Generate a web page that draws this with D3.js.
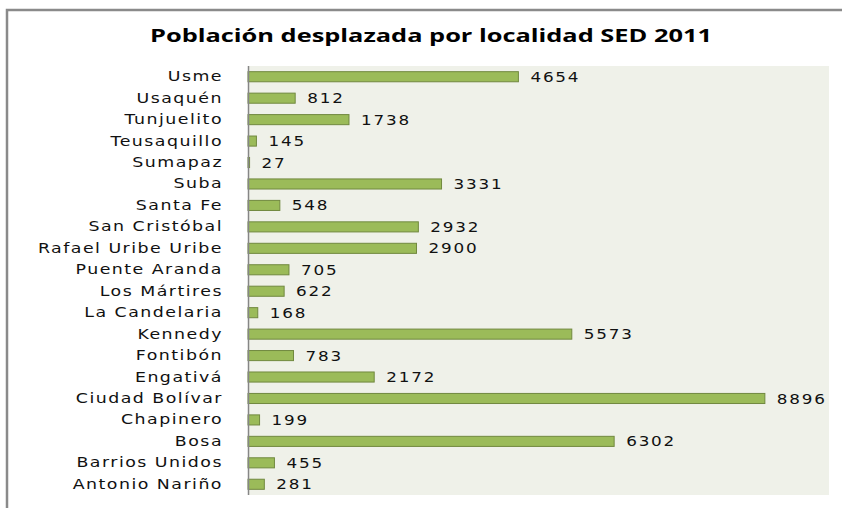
<!DOCTYPE html>
<html>
<head>
<meta charset="utf-8">
<script src="https://cdn.jsdelivr.net/npm/d3@7"></script>
<style>
  body { margin: 0; background: #fff; }
  svg { display: block; }
</style>
</head>
<body>
<svg width="842" height="508"></svg>
<script>
// data, top to bottom as in the chart
const localidades = [
  'Usme', 'Usaquén', 'Tunjuelito', 'Teusaquillo', 'Sumapaz', 'Suba',
  'Santa Fe', 'San Cristóbal', 'Rafael Uribe Uribe', 'Puente Aranda',
  'Los Mártires', 'La Candelaria', 'Kennedy', 'Fontibón', 'Engativá',
  'Ciudad Bolívar', 'Chapinero', 'Bosa', 'Barrios Unidos', 'Antonio Nariño'
];
const poblacion = [
  4654, 812, 1738, 145, 27, 3331, 548, 2932, 2900, 705,
  622, 168, 5573, 783, 2172, 8896, 199, 6302, 455, 281
];
const titulo = 'Población desplazada por localidad SED 2011';

const rows = localidades.map((name, i) => ({ name, value: poblacion[i] }));

const svg = d3.select('svg');
const plot = { left: 248, right: 829, top: 66, bottom: 495 };

// the original picture is stretched sideways, so widen the glyphs a bit
function stretch(sel, factor) {
  sel.each(function () {
    const w = this.getComputedTextLength();
    d3.select(this)
      .attr('textLength', w * factor)
      .attr('lengthAdjust', 'spacingAndGlyphs');
  });
}

// outer frame
svg.append('rect')
  .attr('x', 7).attr('y', 10)
  .attr('width', 850).attr('height', 520)
  .attr('fill', '#fff')
  .attr('stroke', '#8a8a8a')
  .attr('stroke-width', 2.5);

svg.append('text')
  .attr('x', 431).attr('y', 42)
  .attr('text-anchor', 'middle')
  .attr('font-family', 'Open Sans, sans-serif')
  .attr('font-weight', 'bold')
  .attr('font-size', 18)
  .attr('textLength', 562)
  .attr('lengthAdjust', 'spacingAndGlyphs')
  .attr('fill', '#000')
  .text(titulo);

const x = d3.scaleLinear().domain([0, 10000]).range([plot.left, plot.right]);
const y = d3.scaleBand()
  .domain(localidades)
  .range([plot.top, plot.bottom])
  .paddingInner(0.53)
  .paddingOuter(0.265);

// plot area background
svg.append('rect')
  .attr('x', plot.left).attr('y', plot.top)
  .attr('width', plot.right - plot.left)
  .attr('height', plot.bottom - plot.top)
  .attr('fill', '#eff1e9');

// bars
svg.append('g')
  .selectAll('rect')
  .data(rows)
  .join('rect')
  .attr('x', x(0))
  .attr('y', d => y(d.name))
  .attr('width', d => x(d.value) - x(0))
  .attr('height', y.bandwidth())
  .attr('fill', '#9bbb59')
  .attr('stroke', '#71893f')
  .attr('stroke-width', 1);

// value labels
svg.append('g')
  .selectAll('text')
  .data(rows)
  .join('text')
  .attr('x', d => x(d.value) + 12)
  .attr('y', d => y(d.name) + y.bandwidth() / 2)
  .attr('dy', '0.36em')
  .attr('font-family', 'DejaVu Sans, sans-serif')
  .attr('font-size', 14)
  .attr('letter-spacing', 1.5)
  .attr('fill', '#111')
  .text(d => d.value)
  .call(stretch, 1.2);

// category axis
const axis = svg.append('g')
  .attr('transform', `translate(${plot.left},0)`)
  .call(d3.axisLeft(y).tickSize(0).tickPadding(25));

axis.select('.domain')
  .attr('stroke', '#868686')
  .attr('stroke-width', 1.5)
  .attr('d', `M0.5,${plot.top}V${plot.bottom}`);

axis.selectAll('text')
  .attr('font-family', 'DejaVu Sans, sans-serif')
  .attr('font-size', 14)
  .attr('letter-spacing', 1.2)
  .attr('fill', '#111')
  .call(stretch, 1.24);
</script>
</body>
</html>
